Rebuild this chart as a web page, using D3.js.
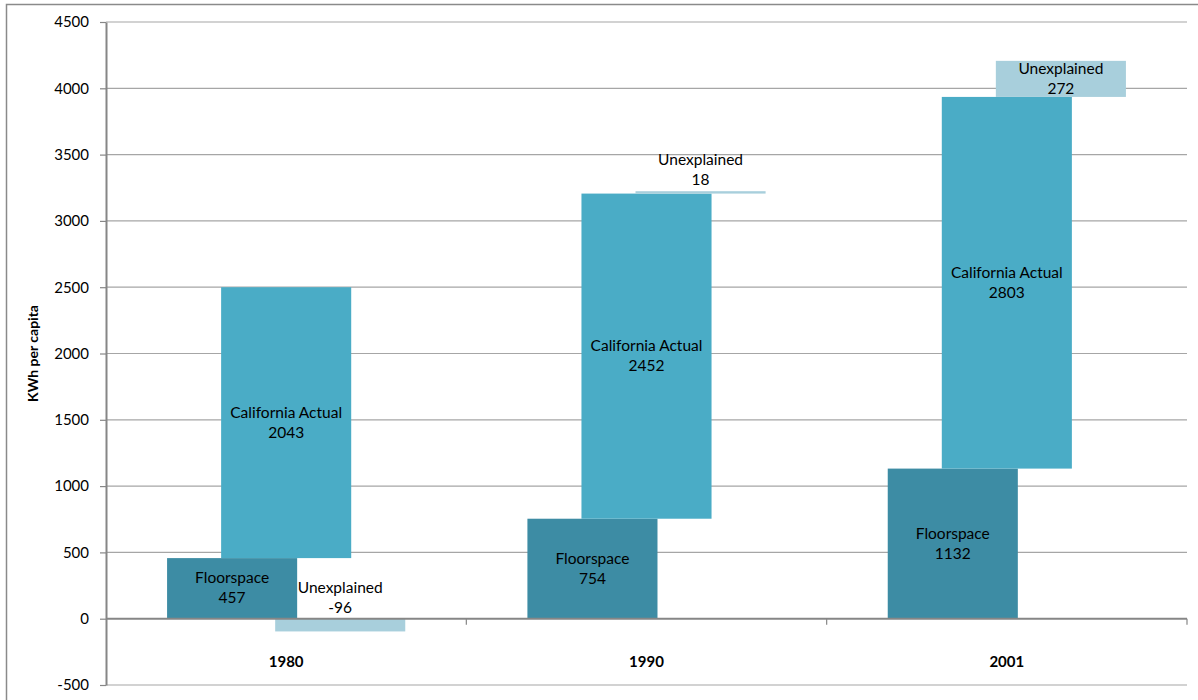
<!DOCTYPE html>
<html>
<head>
<meta charset="utf-8">
<script src="https://cdn.jsdelivr.net/npm/d3@7"></script>
<style>
  body { margin: 0; background: #fff; }
  svg text { font-family: Lato, "Open Sans", sans-serif; fill: #000; }
</style>
</head>
<body>
<div id="chart"></div>
<script>
var years = ["1980", "1990", "2001"];
var floorspace = [457, 754, 1132];
var actual = [2043, 2452, 2803];
var unexplained = [-96, 18, 272];
var seriesNames = ["Floorspace", "California Actual", "Unexplained"];
var yTicks = [-500, 0, 500, 1000, 1500, 2000, 2500, 3000, 3500, 4000, 4500];

var width = 1198, height = 700,
    margins = {top: 22, right: 11, bottom: 15, left: 106};

var colors = ["#3d8ca4", "#4aacc6", "#a8cfdc"],
    offsets = [-0.15, 0, 0.15];

var rows = years.map(function(y, i) {
    return {year: y, "Floorspace": floorspace[i], "California Actual": actual[i], "Unexplained": unexplained[i]};
});

var stack = d3.stack()
    .keys(seriesNames)
    .offset(d3.stackOffsetDiverging);
var layers = stack(rows);

var svg = d3.select("#chart").append("svg")
    .attr("width", width)
    .attr("height", height);

// outer frame
svg.append("rect")
    .attr("x", 6.5).attr("y", 4.5)
    .attr("width", 1200).attr("height", 720)
    .attr("fill", "none")
    .attr("stroke", "#8a8a8a")
    .attr("stroke-width", 1.5);

var x = d3.scaleBand()
    .domain(years)
    .range([margins.left, width - margins.right])
    .paddingInner(0).paddingOuter(0);

var y = d3.scaleLinear()
    .domain([-500, 4500])
    .range([height - margins.bottom, margins.top]);

var bw = x.bandwidth(),
    barW = bw * 0.361;

// gridlines
svg.append("g").selectAll("line")
    .data(yTicks.filter(function(t) { return t !== 0; }))
    .enter().append("line")
    .attr("x1", margins.left).attr("x2", width - margins.right)
    .attr("y1", function(d) { return y(d); })
    .attr("y2", function(d) { return y(d); })
    .attr("stroke", "#a6a6a6")
    .attr("stroke-width", 1.2);

// y axis
var yAxis = svg.append("g")
    .attr("transform", "translate(" + margins.left + ",0)")
    .call(d3.axisLeft(y).tickValues(yTicks)
        .tickFormat(function(d) { return String(d); })
        .tickSize(6).tickPadding(11).tickSizeOuter(0));
yAxis.select(".domain").attr("stroke", "#868686").attr("stroke-width", 2);
yAxis.selectAll(".tick line").attr("stroke", "#868686").attr("stroke-width", 1.2);
yAxis.selectAll(".tick text")
    .style("font-family", "Lato, sans-serif")
    .style("font-size", "15px")
    .attr("fill", "#111");

svg.append("text")
    .attr("transform", "translate(38," + ((margins.top + height - margins.bottom) / 2) + ") rotate(-90)")
    .attr("text-anchor", "middle")
    .style("font-size", "14px")
    .style("font-weight", "bold")
    .text("KWh per capita");

// bars
var groups = svg.selectAll("g.series")
    .data(layers)
    .enter().append("g")
    .attr("class", "series")
    .attr("fill", function(d, i) { return colors[i]; });

groups.selectAll("rect")
    .data(function(d, i) { return d.map(function(p) { return {p: p, s: i}; }); })
    .enter().append("rect")
    .attr("x", function(d) { return x(d.p.data.year) + bw / 2 + offsets[d.s] * bw - barW / 2; })
    .attr("width", barW)
    .attr("y", function(d) { return y(d.p[1]); })
    .attr("height", function(d) { return y(d.p[0]) - y(d.p[1]); });

// x axis at zero
svg.append("line")
    .attr("x1", margins.left).attr("x2", width - margins.right)
    .attr("y1", y(0)).attr("y2", y(0))
    .attr("stroke", "#868686").attr("stroke-width", 2);

svg.append("g").selectAll("line")
    .data(years)
    .enter().append("line")
    .attr("x1", function(d) { return x(d) + bw; })
    .attr("x2", function(d) { return x(d) + bw; })
    .attr("y1", y(0)).attr("y2", y(0) + 6)
    .attr("stroke", "#868686").attr("stroke-width", 1.2);

svg.append("g").selectAll("text")
    .data(years)
    .enter().append("text")
    .attr("x", function(d) { return x(d) + bw / 2; })
    .attr("y", 667)
    .attr("text-anchor", "middle")
    .style("font-size", "15px")
    .style("font-weight", "bold")
    .text(function(d) { return d; });

// data labels
layers.forEach(function(layer, s) {
    layer.forEach(function(p) {
        var cx = x(p.data.year) + bw / 2 + offsets[s] * bw,
            top = y(p[1]), bottom = y(p[0]),
            mid = (top + bottom) / 2;
        if (bottom - top < 30) mid = Math.min(top, bottom) - 21;
        var t = svg.append("text")
            .attr("text-anchor", "middle")
            .style("font-size", "15.5px");
        t.append("tspan").attr("x", cx).attr("y", mid - 5).text(seriesNames[s]);
        t.append("tspan").attr("x", cx).attr("y", mid + 15).text(p.data[seriesNames[s]]);
    });
});
</script>
</body>
</html>
